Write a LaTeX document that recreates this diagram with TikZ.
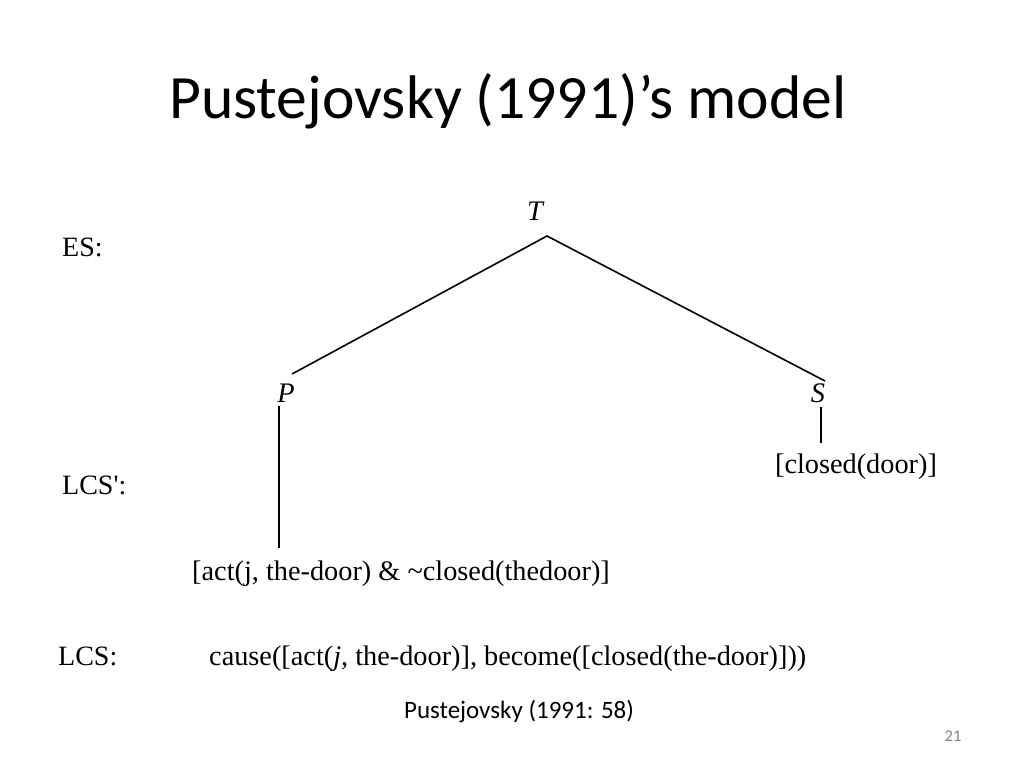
\documentclass[tikz,border=0pt]{standalone}
\usepackage{fontspec}
\setmainfont{Liberation Serif}[Ligatures=TeXOff]
\newfontfamily\calib{Carlito}
\begin{document}
\begin{tikzpicture}[x=1pt,y=-1pt,
  tnode/.style={inner sep=0pt, font=\fontsize{28.3}{32}\selectfont},
  branch/.style={line width=1.6pt, black},
  lbl/.style={inner sep=0pt, anchor=base west, font=\fontsize{28}{32}\selectfont}]
\useasboundingbox[fill=white] (0,0) rectangle (1024,768);
% title
\node[inner sep=0pt, anchor=base west, font=\calib\fontsize{61.6}{70}\selectfont] (title) at (169,118) {Pustejovsky (1991)’s model};
% row labels
\node[lbl] (es) at (62,256) {ES:};
\node[lbl] (lcsp) at (62,494) {LCS':};
\node[lbl] (lcs) at (58,665) {LCS:};
% tree
\node[tnode, anchor=base] (T) at (535,220) {\itshape T};
\node[tnode, anchor=base] (P) at (286,402) {\itshape P};
\node[tnode, anchor=base] (S) at (818,402) {\itshape S};
\coordinate (apex) at (547,236);
\coordinate (pend) at (292,374);
\coordinate (send) at (825,381);
\coordinate (ptop) at (279,406);
\coordinate (pbot) at (279,548);
\coordinate (stop) at (821,407);
\coordinate (sbot) at (821,443);
\draw[branch] (pend) -- (apex) -- (send);
\draw[branch] (ptop) -- (pbot);
\draw[branch] (stop) -- (sbot);
\node[tnode, anchor=base] (closed) at (856,473) {[closed(door)]};
\node[tnode, anchor=base west] (act) at (192,580) {[act(j, the-door) \& \char`~closed(thedoor)]};
\node[tnode, anchor=base west] (cause) at (209,665) {cause([act(\textit{j}, the-door)], become([closed(the-door)]))};
% caption
\node[inner sep=0pt, anchor=base, font=\calib\fontsize{25}{30}\selectfont] (cap) at (519,718) {Pustejovsky (1991: 58)};
\node[inner sep=0pt, anchor=base, text=gray, font=\calib\fontsize{16.5}{19}\selectfont] (num) at (953,741) {21};
\end{tikzpicture}
\end{document}
